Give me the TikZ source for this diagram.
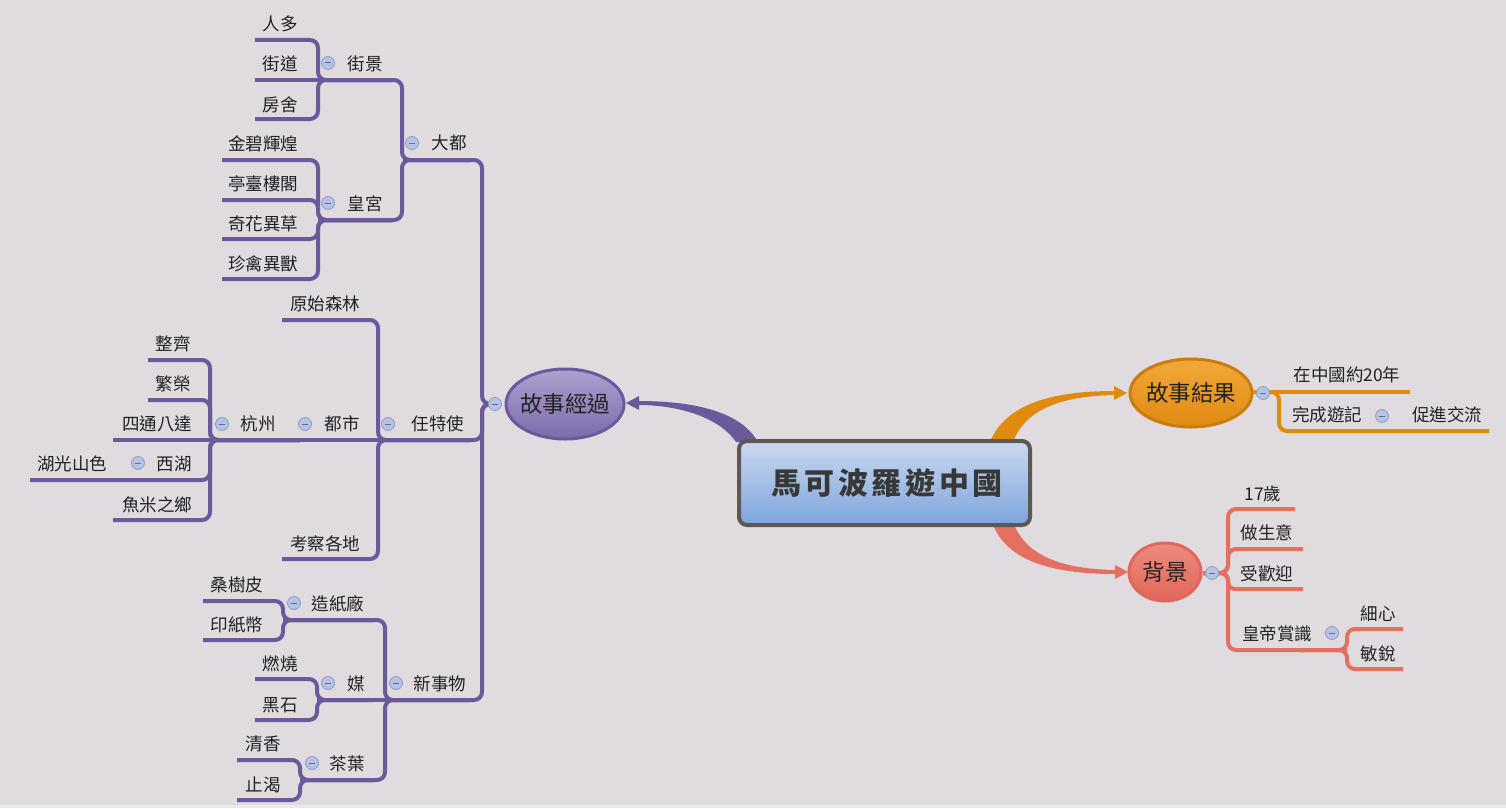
\documentclass[tikz,border=0pt]{standalone}
\usepackage{fontspec}
\setmainfont{Noto Sans CJK TC}
\usetikzlibrary{shapes.geometric}
\definecolor{bg}{HTML}{DFDBDF}
\definecolor{purp}{HTML}{6A5A9B}
\definecolor{purpT}{HTML}{ADA0CE}
\definecolor{purpB}{HTML}{7C6BAD}
\definecolor{orl}{HTML}{E08A0E}
\definecolor{orT}{HTML}{F2A838}
\definecolor{orB}{HTML}{E08A12}
\definecolor{redl}{HTML}{E5705F}
\definecolor{redT}{HTML}{EE8A7C}
\definecolor{redB}{HTML}{E0675A}
\definecolor{boxT}{HTML}{CBD9EF}
\definecolor{boxB}{HTML}{7DA4DC}
\definecolor{boxE}{HTML}{5E5853}
\definecolor{mfill}{HTML}{B7C3E3}
\definecolor{mdraw}{HTML}{8C9CCB}
\definecolor{tx}{HTML}{222222}
\tikzset{
  pl/.style={draw=purp, line width=4pt, rounded corners=8pt},
  ol/.style={draw=orl, line width=4pt, rounded corners=8pt},
  rl/.style={draw=redl, line width=4pt, rounded corners=8pt},
  txt/.style={font=\fontsize{17.5}{20}\selectfont, text=tx, inner sep=0pt},
  etxt/.style={font=\fontsize{22.5}{26}\selectfont, text=tx, inner sep=0pt},
  minus/.style={circle, fill=mfill, draw=mdraw, line width=0.8pt, minimum size=13pt, inner sep=0pt,
    path picture={\draw[mdraw!70!black, line width=1pt] ([xshift=-3pt]path picture bounding box.center) -- ([xshift=3pt]path picture bounding box.center);}},
}
\begin{document}
\begin{tikzpicture}[x=1pt,y=-1pt]
\useasboundingbox (0,0) rectangle (1506,808);
\fill[bg] (0,0) rectangle (1506,808);
\fill[bg!60!white] (0,805) rectangle (1506,808);

% ---------- coordinates for arrows ----------
\coordinate (pa1) at (638,401); \coordinate (pa2) at (758,442);
\coordinate (pa3) at (736,442); \coordinate (pa4) at (638,405);
\coordinate (oa1) at (990,442); \coordinate (oa2) at (1114,391);
\coordinate (oa3) at (1114,395); \coordinate (oa4) at (1013,442);
\coordinate (ra1) at (992,522); \coordinate (ra2) at (1115,574);
\coordinate (ra3) at (1115,570); \coordinate (ra4) at (1013,522);

% tapered arrows
\fill[purp] (pa1) .. controls (690,401) and (740,410) .. (pa2) -- (pa3) .. controls (720,418) and (680,405) .. (pa4) -- cycle;
\fill[purp] (626,403) -- (639,396) -- (639,410) -- cycle;
\fill[orl] (oa1) .. controls (1005,405) and (1050,391) .. (oa2) -- (oa3) .. controls (1060,396) and (1025,410) .. (oa4) -- cycle;
\fill[orl] (1127,393) -- (1114,386) -- (1114,400) -- cycle;
\fill[redl] (ra1) .. controls (1005,560) and (1050,574) .. (ra2) -- (ra3) .. controls (1060,569) and (1025,555) .. (ra4) -- cycle;
\fill[redl] (1128,572) -- (1115,565) -- (1115,579) -- cycle;

% ---------- center box ----------
\node[draw=boxE, line width=4pt, rounded corners=8pt, top color=boxT, bottom color=boxB,
  minimum width=291pt, minimum height=84pt, inner sep=0pt] (root) at (884.5,483) {};
\node[font=\fontsize{30}{34}\selectfont\bfseries\addfontfeatures{LetterSpace=12}, text=tx!90!white, inner sep=0pt] (roott) at (887,483) {馬可波羅遊中國};

% ---------- main ellipses ----------
\node[ellipse, draw=purp, line width=3pt, top color=purpT, bottom color=purpB, minimum width=118pt, minimum height=70pt, inner sep=0pt] (gsjg) at (565,404) {};
\node[etxt] (gsjgt) at (565,404) {故事經過};
\node[ellipse, draw=orB!90!black, line width=3pt, top color=orT, bottom color=orB, minimum width=122pt, minimum height=68pt, inner sep=0pt] (gsjx) at (1191,393) {};
\node[etxt] (gsjxt) at (1191,393) {故事結果};
\node[ellipse, draw=redB, line width=3pt, top color=redT, bottom color=redB, minimum width=72pt, minimum height=58pt, inner sep=0pt] (bj) at (1165,572) {};
\node[etxt] (bjt) at (1165,572) {背景};

% ---------- purple tree ----------
% trunk
\draw[pl] (403,160) -- (482,160) -- (482,404) -- (497,404);
\draw[pl] (378,440) -- (482,440) -- (482,404) -- (497,404);
\draw[pl] (385,700) -- (482,700) -- (482,404) -- (497,404);
% 大都
\draw[pl] (318,80) -- (402,80) -- (402,160) -- (470,160);
\draw[pl] (318,220) -- (402,220) -- (402,160) -- (470,160);
% 街景
\draw[pl] (255,40) -- (318,40) -- (318,80) -- (392,80);
\draw[pl] (255,80) -- (392,80);
\draw[pl] (255,119) -- (318,119) -- (318,80) -- (392,80);
% 皇宮
\draw[pl] (222,160) -- (318,160) -- (318,220) -- (392,220);
\draw[pl] (222,200) -- (318,200) -- (318,220) -- (392,220);
\draw[pl] (222,239) -- (318,239) -- (318,220) -- (392,220);
\draw[pl] (222,279) -- (318,279) -- (318,220) -- (392,220);
% 任特使
\draw[pl] (282,320) -- (378,320) -- (378,440) -- (470,440);
\draw[pl] (282,559) -- (378,559) -- (378,440) -- (470,440);
\draw[pl] (113,440) -- (470,440);
% 杭州
\draw[pl] (148,360) -- (210,360) -- (210,440) -- (300,440);
\draw[pl] (148,400) -- (210,400) -- (210,440) -- (300,440);
\draw[pl] (30,480) -- (210,480) -- (210,440) -- (300,440);
\draw[pl] (113,520) -- (210,520) -- (210,440) -- (300,440);
% 新事物
\draw[pl] (283,620) -- (385,620) -- (385,700) -- (470,700);
\draw[pl] (317,700) -- (470,700);
\draw[pl] (300,780) -- (385,780) -- (385,700) -- (470,700);
% 造紙廠
\draw[pl] (203,601) -- (283,601) -- (283,620) -- (373,620);
\draw[pl] (203,640) -- (283,640) -- (283,620) -- (373,620);
% 媒
\draw[pl] (255,679) -- (317,679) -- (317,700) -- (373,700);
\draw[pl] (255,720) -- (317,720) -- (317,700) -- (373,700);
% 茶葉
\draw[pl] (237,760) -- (300,760) -- (300,780) -- (373,780);
\draw[pl] (237,800) -- (300,800) -- (300,780) -- (373,780);

% ---------- orange tree ----------
\draw[ol] (1253,392) -- (1410,392);
\draw[ol] (1253,392) -- (1279,392) -- (1279,431) -- (1489,431);

% ---------- red tree ----------
\draw[rl] (1203,573) -- (1228,573) -- (1228,509) -- (1295,509);
\draw[rl] (1203,573) -- (1228,573) -- (1228,549) -- (1303,549);
\draw[rl, rounded corners=7pt] (1203,573) -- (1228,573) -- (1228,589) -- (1303,589);
\draw[rl] (1203,573) -- (1228,573) -- (1228,650) -- (1347,650);
\draw[rl] (1300,650) -- (1347,650) -- (1347,629) -- (1403,629);
\draw[rl] (1300,650) -- (1347,650) -- (1347,669) -- (1403,669);

% ---------- minus markers ----------
\node[minus] (m0) at (495,404) {};
\node[minus] (m1) at (328,63) {};
\node[minus] (m2) at (412,143) {};
\node[minus] (m3) at (328,203) {};
\node[minus] (m4) at (388,424) {};
\node[minus] (m5) at (305,424) {};
\node[minus] (m6) at (222,424) {};
\node[minus] (m7) at (138,463) {};
\node[minus] (m8) at (294,603) {};
\node[minus] (m9) at (328,683) {};
\node[minus] (m10) at (396,683) {};
\node[minus] (m11) at (312,763) {};
\node[minus] (m12) at (1263,393) {};
\node[minus] (m13) at (1382,416) {};
\node[minus] (m14) at (1212,573) {};
\node[minus] (m15) at (1332,633) {};

% ---------- texts: left ----------
\node[txt] (renduo) at (280,24) {人多};
\node[txt] (jiedao) at (280,64) {街道};
\node[txt] (fangshe) at (280,105) {房舍};
\node[txt] (jiejing) at (365,64) {街景};
\node[txt] (dadu) at (449,143) {大都};
\node[txt] (jinbi) at (263,144) {金碧輝煌};
\node[txt] (tingtai) at (263,184) {亭臺樓閣};
\node[txt] (qihua) at (263,224) {奇花異草};
\node[txt] (zhenqin) at (263,264) {珍禽異獸};
\node[txt] (huanggong) at (365,204) {皇宮};
\node[txt] (yuanshi) at (325,304) {原始森林};
\node[txt] (rentes) at (438,424) {任特使};
\node[txt] (dushi) at (342,424) {都市};
\node[txt] (hangzhou) at (258,424) {杭州};
\node[txt] (kaocha) at (325,544) {考察各地};
\node[txt] (zhengqi) at (173,344) {整齊};
\node[txt] (fanrong) at (173,384) {繁榮};
\node[txt] (sitong) at (157,424) {四通八達};
\node[txt] (xihu) at (174,464) {西湖};
\node[txt] (huguang) at (72,464) {湖光山色};
\node[txt] (yumi) at (157,505) {魚米之鄉};
\node[txt] (sangshu) at (237,585) {桑樹皮};
\node[txt] (yinzhi) at (237,625) {印紙幣};
\node[txt] (zaozhi) at (338,604) {造紙廠};
\node[txt] (ranshao) at (280,664) {燃燒};
\node[txt] (heishi) at (280,705) {黑石};
\node[txt] (mei) at (356,684) {媒};
\node[txt] (xinshi) at (440,684) {新事物};
\node[txt] (qingxiang) at (263,744) {清香};
\node[txt] (zhike) at (263,785) {止渴};
\node[txt] (chaye) at (347,764) {茶葉};

% ---------- texts: right ----------
\node[txt] (zaizhong) at (1347,375) {在中國約20年};
\node[txt] (wancheng) at (1327,415) {完成遊記};
\node[txt] (cujin) at (1447,415) {促進交流};
\node[txt] (shiqi) at (1263,494) {17歲};
\node[txt] (zuosheng) at (1267,533) {做生意};
\node[txt] (shouhuan) at (1267,574) {受歡迎};
\node[txt] (huangdi) at (1277,634) {皇帝賞識};
\node[txt] (xixin) at (1378,614) {細心};
\node[txt] (minrui) at (1378,654) {敏銳};
\end{tikzpicture}
\end{document}
